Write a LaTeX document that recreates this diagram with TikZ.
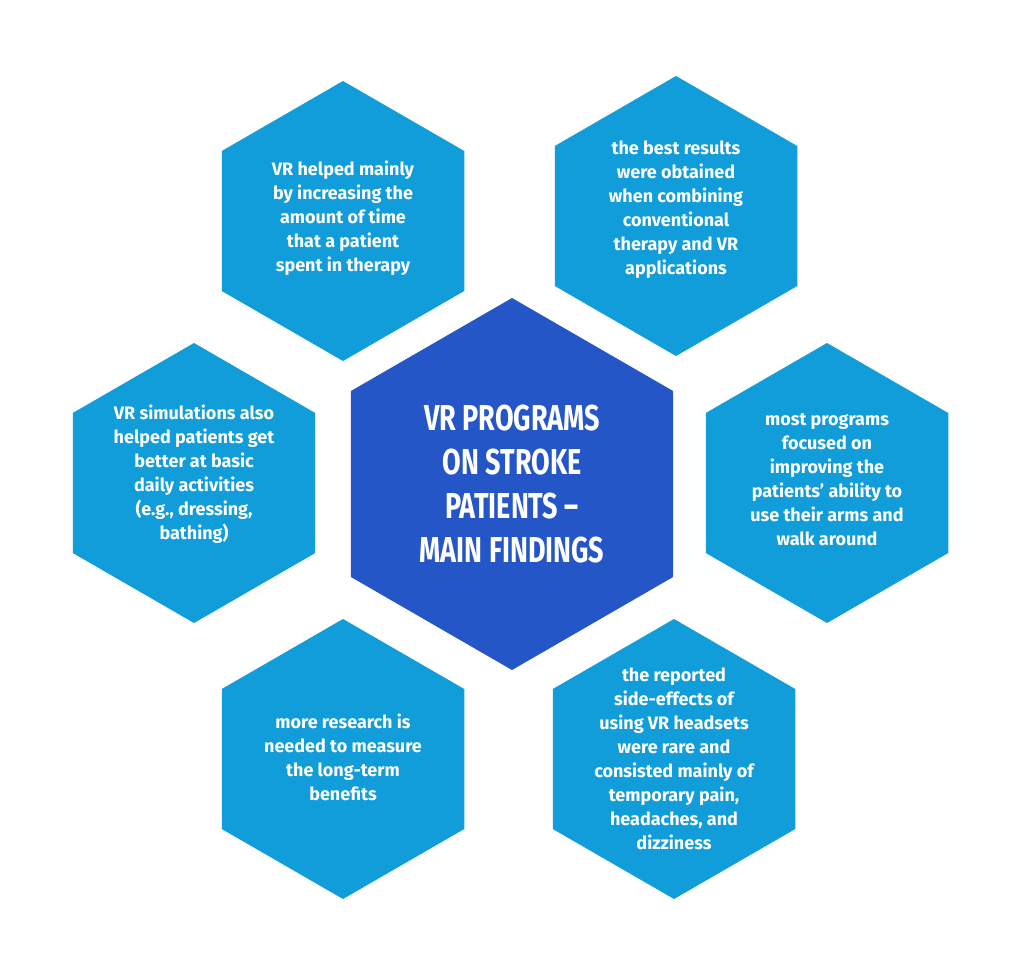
\documentclass[tikz,border=0pt]{standalone}
\usepackage{fontspec}
\setmainfont{Fira Sans}
\definecolor{outerc}{HTML}{109DDA}
\definecolor{innerc}{HTML}{2456C8}
\begin{document}
\begin{tikzpicture}[x=1pt,y=-1pt,
  hextxt/.style={text=white,align=center,font=\fontsize{18}{24}\selectfont\bfseries},
  titletxt/.style={text=white,align=center,font=\fontsize{36}{44}\selectfont\bfseries}]
\useasboundingbox (0,0) rectangle (1024,971);
\newcommand\hexagon[4]{%
  \fill[#4] (#1,#2) +(90:#3) -- +(30:#3) -- +(-30:#3) -- +(-90:#3) -- +(-150:#3) -- +(150:#3) -- cycle;}
\hexagon{343}{221}{140}{outerc}
\hexagon{676}{216}{140}{outerc}
\hexagon{194}{483}{140}{outerc}
\hexagon{827}{483}{140}{outerc}
\hexagon{343}{759}{140}{outerc}
\hexagon{674}{759}{140}{outerc}
\hexagon{512}{484}{186}{innerc}
\node[hextxt] (tl) at (343,218) {VR helped mainly\\by increasing the\\amount of time\\that a patient\\spent in therapy};
\node[hextxt] (tr) at (676,210) {the best results\\were obtained\\when combining\\conventional\\therapy and VR\\applications};
\node[hextxt] (l) at (194,474) {VR simulations also\\helped patients get\\better at basic\\daily activities\\(e.g., dressing,\\bathing)};
\node[hextxt] (r) at (827,480) {most programs\\focused on\\improving the\\patients' ability to\\use their arms and\\walk around};
\node[hextxt] (bl) at (343,757) {more research is\\needed to measure\\the long-term\\benefits};
\node[hextxt] (br) at (674,759) {the reported\\side-effects of\\using VR headsets\\were rare and\\consisted mainly of\\temporary pain,\\headaches, and\\dizziness};
\node[titletxt] (c) at (512,484) {\scalebox{0.75}[1]{\parbox{300pt}{\centering VR PROGRAMS\\ON STROKE\\PATIENTS --\\MAIN FINDINGS}}};
\end{tikzpicture}
\end{document}
